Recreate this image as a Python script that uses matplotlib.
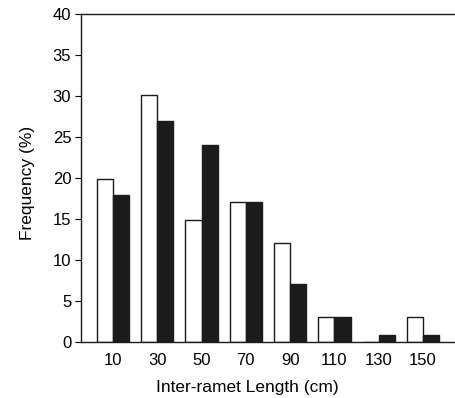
import matplotlib
matplotlib.use("Agg")
import matplotlib.pyplot as plt
import numpy as np

categories = [10, 30, 50, 70, 90, 110, 130, 150]
white_vals = [19.9, 30.1, 14.9, 17.1, 12.1, 3.0, 0.0, 3.0]
black_vals = [17.9, 27.0, 24.0, 17.1, 7.1, 3.0, 0.9, 0.8]
yticks = [0, 5, 10, 15, 20, 25, 30, 35, 40]

plt.rcParams['font.family'] = ['Liberation Sans', 'DejaVu Sans']

fig = plt.figure(figsize=(4.55, 3.98), dpi=100)
ax = fig.add_axes([0.178, 0.1407, 0.822, 0.8241])

x = np.array(categories, dtype=float)
w = 7.3
ax.bar(x - w/2, white_vals, width=w, color='white', edgecolor='#1a1a1a', linewidth=1.0)
ax.bar(x + w/2, black_vals, width=w, color='#1c1c1c', edgecolor='#1c1c1c', linewidth=1.0)

ax.set_xlim(-4.4, 164.4)
ax.set_ylim(0, 40)
ax.set_yticks(yticks)
ax.set_xticks(categories)
ax.set_xticklabels([str(c) for c in categories])
ax.tick_params(axis='x', length=0, pad=8, labelsize=12)
ax.tick_params(axis='y', length=4, width=0.8, pad=3, labelsize=12)
ax.spines['right'].set_visible(False)
for s in ['left', 'top', 'bottom']:
    ax.spines[s].set_linewidth(1.0)
    ax.spines[s].set_color('#1a1a1a')

ax.set_xlabel('Inter-ramet Length (cm)', fontsize=12.5, labelpad=7)
ax.set_ylabel('Frequency (%)', fontsize=12.5, labelpad=12)
ax.xaxis.set_label_coords(0.444, -0.115)
ax.yaxis.set_label_coords(-0.124, 0.485)

fig.savefig('out.png', dpi=100)
